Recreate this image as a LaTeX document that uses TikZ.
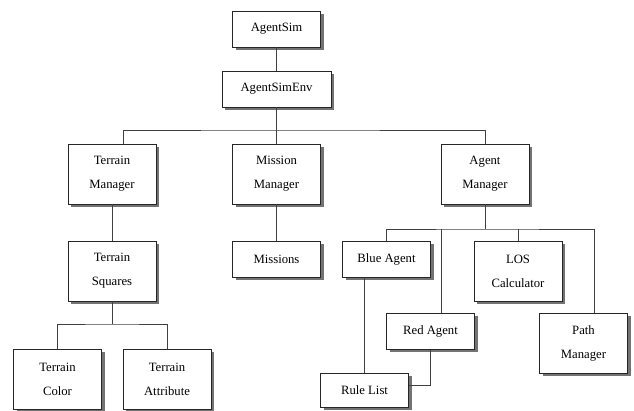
\documentclass[tikz,border=0pt]{standalone}
\usepackage{fontspec}
\setmainfont{Liberation Serif}
\usepackage{tikz}
\usetikzlibrary{positioning}
\usetikzlibrary{calc}
\usetikzlibrary{shadows}

\begin{document}
\begin{tikzpicture}
	[x=1pt,y=1pt,
	module/.style={rectangle,draw=black!85,line width=0.8pt,fill=white,inner sep=0pt,
		minimum width=88,minimum height=36,align=center,
		font=\fontsize{12.7}{24}\selectfont,
		drop shadow={shadow xshift=3pt,shadow yshift=-3pt,fill=black!55,opacity=1}},
	tall/.style={module,minimum height=60},
	link/.style={draw=black!75,line width=0.8pt}]

	\useasboundingbox (0,0) rectangle (634,411);

	% Draw the modules
	\draw node at (276.5,382) [module](sim){AgentSim}
		node at (276.5,322) [module,minimum width=109](env){AgentSimEnv}
		node at (112,237) [tall](tmgr){Terrain\\Manager}
		node at (276.5,237) [tall](mmgr){Mission\\Manager}
		node at (485,237) [tall](amgr){Agent\\Manager}
		node at (112,140) [tall](tsq){Terrain\\Squares}
		node at (276.5,152) [module](miss){Missions}
		node at (386.5,152) [module](blue){Blue Agent}
		node at (518,139.5) [tall](los){LOS\\Calculator}
		node at (430.5,79.5) [module](red){Red Agent}
		node at (583.5,67.5) [tall](path){Path\\Manager}
		node at (364.5,21) [module,minimum height=34](rule){Rule List}
		node at (57.5,32) [tall](tcol){Terrain\\Color}
		node at (167,32) [tall](tattr){Terrain\\Attribute};

	% Bus points
	\coordinate (bus1) at (276.5,281);
	\coordinate (bus2) at (485,182);
	\coordinate (bus3) at (112,87);

	% Draw the links between the modules
	\draw[link] (sim) -- (env)
		(env) -- (bus1)
		($(tmgr.north)+(11,0)$) |- (bus1) -| (amgr.north)
		(mmgr.north) -- (bus1)
		(tmgr) -- (tsq)
		(mmgr) -- (miss)
		(amgr) -- (bus2)
		(blue.north) |- (bus2) -| ($(path.north)+(11,0)$)
		(los.north) -- (los.north |- bus2)
		($(red.north)+(11,0)$) -- ($(red.north |- bus2)+(11,0)$)
		(rule.north) -- (rule.north |- blue.south)
		(red.south) |- ($(rule.east)+(0,4.5)$)
		(tsq) -- (bus3)
		(tcol.north) |- (bus3) -| (tattr.north);
\end{tikzpicture}
\end{document}
